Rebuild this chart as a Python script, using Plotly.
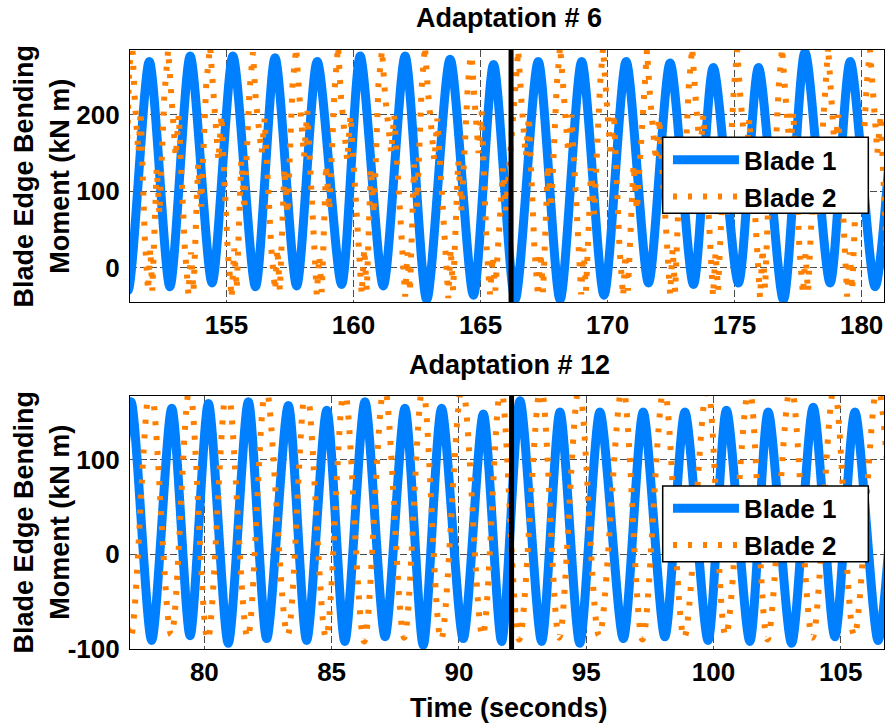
import plotly.graph_objects as go

# ---------------- Adaptation # 6 ----------------
# Blade 1 (extrema)
b1_6_t = [150.30, 151.12, 151.96, 152.77, 153.57, 154.43, 155.25, 156.14, 156.91, 157.76,
          158.57, 159.53, 160.26, 161.17, 162.03, 162.88, 163.80, 164.72, 165.51, 166.36,
          167.27, 168.13, 168.98, 169.86, 170.73, 171.61, 172.46, 173.38, 174.16, 175.15,
          175.94, 176.92, 177.77, 178.76, 179.55, 180.53, 181.36]
b1_6_v = [270, -30, 270, -25, 277, -20, 277, -25, 275, -24,
          270, -22, 277, -24, 277, -42, 273, -36, 266, -42,
          270, -42, 270, -36, 270, -20, 268, -22, 262, -20,
          262, -42, 282, -20, 270, -25, 270]

# Blade 2 (noisy signal)
b2_6_t = [150.60, 150.75, 150.90, 151.02,
          151.17, 151.30, 151.38, 151.53, 151.62, 151.78, 151.91, 152.00, 152.08, 152.25, 152.36,
          152.55, 152.70, 152.82, 153.00, 153.12, 153.35, 153.50, 153.60, 153.70, 153.88, 154.00,
          154.20, 154.35, 154.48, 154.68, 154.80, 155.05, 155.20, 155.30, 155.40, 155.58, 155.70,
          155.90, 156.04, 156.15, 156.38, 156.50, 156.76, 156.91, 157.00, 157.10, 157.28, 157.40,
          157.60, 157.74, 157.86, 158.05, 158.18, 158.42, 158.55, 158.65, 158.75, 158.92, 159.05,
          159.25, 159.39, 159.50, 159.75, 159.88, 160.18, 160.32, 160.42, 160.52, 160.68, 160.80,
          160.98, 161.12, 161.24, 161.48, 161.60, 161.88, 162.03, 162.12, 162.22, 162.38, 162.50,
          162.68, 162.81, 162.93, 163.18, 163.30, 163.58, 163.73, 163.82, 163.92, 164.12, 164.25,
          164.50, 164.63, 164.75, 164.92, 165.04, 165.24, 165.37, 165.48, 165.58, 165.88, 166.00,
          166.35, 166.48, 166.60, 166.78, 166.90, 167.12, 167.26, 167.36, 167.46, 167.65, 167.78,
          168.00, 168.13, 168.25, 168.45, 168.58, 168.82, 168.96, 169.05, 169.15, 169.35, 169.47,
          169.70, 169.82, 169.94, 170.12, 170.25, 170.47, 170.61, 170.70, 170.80, 171.02, 171.15,
          171.42, 171.55, 171.67, 171.90, 172.03, 172.32, 172.46, 172.56, 172.66, 172.85, 172.97,
          173.20, 173.33, 173.45, 173.64, 173.77, 174.02, 174.15, 174.25, 174.35, 174.56, 174.70,
          174.97, 175.10, 175.22, 175.45, 175.58, 175.86, 176.00, 176.10, 176.20, 176.38, 176.50,
          176.74, 176.87, 176.99, 177.18, 177.31, 177.55, 177.69, 177.79, 177.89, 178.12, 178.25,
          178.55, 178.68, 178.80, 178.95, 179.08, 179.30, 179.43, 179.53, 179.63, 179.82, 179.95,
          180.20, 180.33, 180.45, 180.62, 180.75, 180.98, 181.12]
b2_6_v = [-35, 20, 130, 75,
          265, 285, 225, 150, 205, 40, -30, 25, -30, 130, 70,
          225, 285, 230, 145, 200, 30, -35, 20, -32, 135, 80,
          240, 290, 225, 140, 200, 20, -40, 25, -28, 140, 75,
          230, 282, 220, 150, 195, 25, -30, 25, -30, 130, 70,
          240, 288, 228, 145, 205, 30, -35, 15, -32, 135, 75,
          232, 290, 225, 140, 200, 25, -35, 25, -30, 130, 70,
          240, 285, 226, 150, 200, 25, -38, 20, -32, 135, 80,
          236, 290, 230, 140, 195, 20, -40, 25, -30, 140, 75,
          240, 288, 225, 150, 205, 25, -35, 15, -30, 130, 75,
          230, 285, 222, 145, 198, 25, -38, 20, -32, 135, 78,
          240, 290, 228, 150, 200, 25, -35, 25, -30, 130, 70,
          238, 288, 230, 145, 202, 25, -38, 18, -30, 135, 75,
          236, 285, 224, 140, 196, 25, -35, 25, -32, 140, 80,
          240, 288, 228, 150, 200, 25, -38, 20, -30, 130, 70,
          234, 285, 226, 140, 195, 25, -40, 25, -28, 135, 75,
          240, 288, 230, 150, 204, 25, -35, 18, -32, 130, 70,
          236, 290, 225, 150, 200, 25, -38, 20, -30, 140, 78,
          240, 285, 228, 150, 200, 25, -35]
adapt6_t = 166.2

# ---------------- Adaptation # 12 ----------------
b1_12_t = [76.40, 77.12, 77.93, 78.72, 79.44, 80.16, 80.94, 81.73, 82.45, 83.30,
           84.02, 84.81, 85.52, 86.31, 87.10, 87.88, 88.60, 89.32, 90.17, 90.96,
           91.68, 92.40, 93.25, 93.97, 94.75, 95.54, 96.46, 97.24, 98.09, 98.88,
           99.79, 100.51, 101.43, 102.15, 103.07, 103.92, 104.77, 105.56, 106.47, 107.25]
b1_12_v = [-90, 161, -91, 154, -86, 159, -94, 161, -89, 157,
           -91, 152, -92, 161, -87, 154, -96, 154, -89, 148,
           -92, 162, -92, 150, -94, 150, -89, 150, -87, 150,
           -91, 152, -92, 150, -94, 155, -87, 150, -91, 150]
b2_12_t = [76.38, 77.10, 77.88, 78.70, 79.42, 80.13, 80.90, 81.70, 82.42, 83.27,
           84.00, 84.78, 85.50, 86.28, 87.07, 87.85, 88.58, 89.30, 90.13, 90.93,
           91.65, 92.37, 93.22, 93.94, 94.72, 95.51, 96.43, 97.21, 98.06, 98.85,
           99.76, 100.48, 101.40, 102.12, 103.04, 103.89, 104.74, 105.53, 106.44, 107.22]
b2_12_v = [175, -88, 178, -85, 175, -90, 178, -88, 176, -85,
           178, -88, 175, -92, 178, -88, 176, -90, 178, -86,
           176, -90, 178, -88, 175, -86, 178, -90, 176, -88,
           178, -86, 176, -90, 178, -88, 176, -86, 178, -88]
adapt12_t = 92.07

x6_ticks = [155, 160, 165, 170, 175, 180]
y6_ticks = [0, 100, 200]
y6_ticktext = ["0", "100", "200"]
x12_ticks = [80, 85, 90, 95, 100, 105]
y12_ticks = [-100, 0, 100]
y12_ticktext = ["-100", "0", "100"]
series_names = ["Blade 1", "Blade 2"]

BLUE = "#0080ff"
ORANGE = "#ff8000"
FONT = "Liberation Sans, Arial, sans-serif"

blue_line = dict(color=BLUE, width=9, shape="spline", smoothing=0.75)
dot_line = dict(color=ORANGE, width=6, dash="4px,11px")
fig = go.Figure()
fig.add_trace(go.Scatter(x=b1_6_t, y=b1_6_v, mode="lines", name=series_names[0],
                         line=blue_line, xaxis="x", yaxis="y", legend="legend"))
fig.add_trace(go.Scatter(x=b2_6_t, y=b2_6_v, mode="lines", name=series_names[1],
                         line=dot_line, xaxis="x", yaxis="y", legend="legend"))
fig.add_trace(go.Scatter(x=b1_12_t, y=b1_12_v, mode="lines", name=series_names[0],
                         line=blue_line, xaxis="x2", yaxis="y2", legend="legend2"))
fig.add_trace(go.Scatter(x=b2_12_t, y=b2_12_v, mode="lines", name=series_names[1],
                         line=dict(dot_line, shape="spline"),
                         xaxis="x2", yaxis="y2", legend="legend2"))

tickfont = dict(family=FONT, size=26, color="black", weight="bold")
axstyle = dict(showline=True, linecolor="black", linewidth=1.2, mirror=True,
               showgrid=True, gridcolor="#4d4d4d", gridwidth=1, griddash="7px,3px",
               zeroline=False, ticks="", tickfont=tickfont, automargin=False)

H_TOP = 0.5793
H_BOT = 0.4224
legfont = dict(family=FONT, size=26, color="black", weight="bold")
fig.update_layout(
    width=885, height=723,
    margin=dict(l=130, r=1, t=50, b=74),
    paper_bgcolor="white", plot_bgcolor="white",
    xaxis=dict(domain=[0, 1], anchor="y", range=[151.2, 180.88], tickvals=x6_ticks,
               ticklabelstandoff=0, **axstyle),
    yaxis=dict(domain=[H_TOP, 1], anchor="x", range=[-45, 285], tickvals=y6_ticks,
               ticktext=y6_ticktext, ticklabelstandoff=4, **axstyle),
    xaxis2=dict(domain=[0, 1], anchor="y2", range=[77.08, 106.7], tickvals=x12_ticks,
                ticklabelstandoff=0, **axstyle),
    yaxis2=dict(domain=[0, H_BOT], anchor="x2", range=[-100, 167], tickvals=y12_ticks,
                ticktext=y12_ticktext, ticklabelstandoff=4, **axstyle),
    legend=dict(x=0.7135, xanchor="left", y=0.856, yanchor="top", bgcolor="rgba(0,0,0,0)",
                borderwidth=0, itemwidth=66, font=legfont),
    legend2=dict(x=0.7135, xanchor="left", y=0.274, yanchor="top", bgcolor="rgba(0,0,0,0)",
                 borderwidth=0, itemwidth=66, font=legfont),
    shapes=[
        dict(type="line", xref="x", yref="y domain", x0=adapt6_t, x1=adapt6_t, y0=0, y1=1,
             line=dict(color="black", width=5), layer="above"),
        dict(type="line", xref="x2", yref="y2 domain", x0=adapt12_t, x1=adapt12_t, y0=0, y1=1,
             line=dict(color="black", width=5), layer="above"),
        # legend boxes
        dict(type="rect", xref="paper", yref="paper", x0=0.7065, x1=0.9792, y0=0.7274, y1=0.8543,
             fillcolor="white", line=dict(color="black", width=1.5), layer="above"),
        dict(type="rect", xref="paper", yref="paper", x0=0.7065, x1=0.9792, y0=0.1457, y1=0.2721,
             fillcolor="white", line=dict(color="black", width=1.5), layer="above"),
    ],
)

lab = dict(family=FONT, size=27, color="black", weight="bold")
fig.add_annotation(text="Adaptation # 6", xref="paper", yref="paper", x=0.503, y=1.0534,
                   xanchor="center", yanchor="middle", showarrow=False, font=lab)
fig.add_annotation(text="Adaptation # 12", xref="paper", yref="paper", x=0.503, y=0.474,
                   xanchor="center", yanchor="middle", showarrow=False, font=lab)
fig.add_annotation(text="Time (seconds)", xref="paper", yref="paper", x=0.503, y=-0.0985,
                   xanchor="center", yanchor="middle", showarrow=False, font=lab)
fig.add_annotation(text="Blade Edge Bending<br>Moment (kN m)", xref="paper", yref="paper",
                   x=-0.1174, y=0.7896, xanchor="center", yanchor="middle", textangle=-90,
                   showarrow=False, font=lab)
fig.add_annotation(text="Blade Edge Bending<br>Moment (kN m)", xref="paper", yref="paper",
                   x=-0.1174, y=0.212, xanchor="center", yanchor="middle", textangle=-90,
                   showarrow=False, font=lab)

# the page's default body margin would shift the figure by 8px; remove it
fig.write_html("out.html", config={"displayModeBar": False},
               post_script="document.body.style.margin='0px';")
